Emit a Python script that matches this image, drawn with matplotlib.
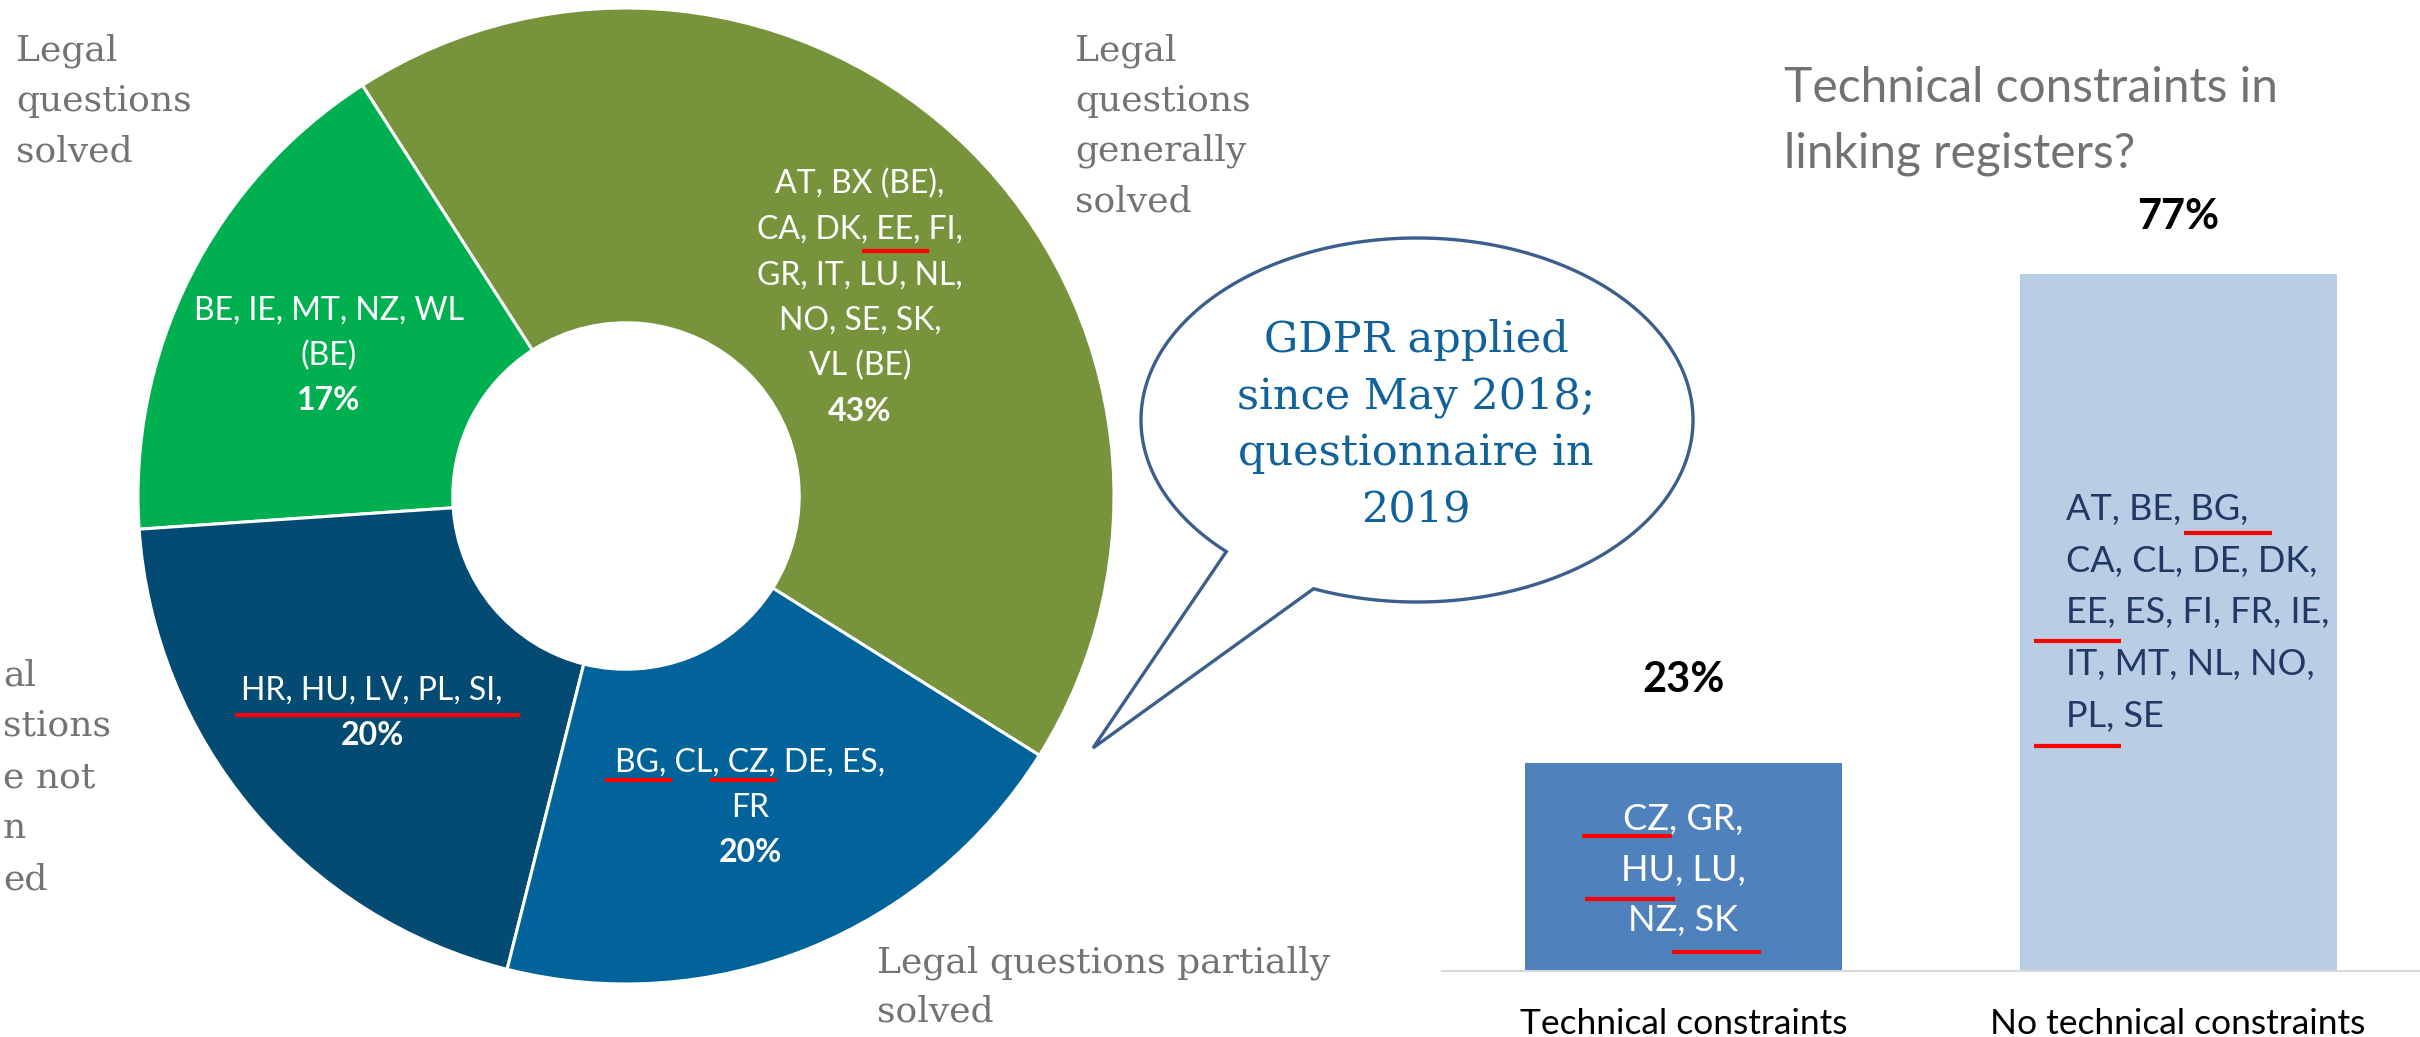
import matplotlib
matplotlib.use("Agg")
import matplotlib.pyplot as plt
import numpy as np
from matplotlib.lines import Line2D
from matplotlib.patches import Polygon

W, H, DPI = 2420, 1037, 100

# ---------------- data ----------------
pie_categories = ["Legal questions generally solved", "Legal questions solved",
                  "Legal questions have not been solved", "Legal questions partially solved"]
pie_values = [43, 17, 20, 20]
pie_countries = [
    ["AT, BX (BE),", "CA, DK, EE, FI,", "GR, IT, LU, NL,", "NO, SE, SK,", "VL (BE)"],
    ["BE, IE, MT, NZ, WL", "(BE)"],
    ["HR, HU, LV, PL, SI,"],
    ["BG, CL, CZ, DE, ES,", "FR"],
]
pie_colors = ["#77933C", "#00B050", "#034B73", "#02629A"]

# visible (left-cropped) part of the "have not been solved" label
cropped_label = ["al", "stions", "e not", "n", "ed"]

bar_title = "Technical constraints in\nlinking registers?"
bar_categories = ["Technical constraints", "No technical constraints"]
bar_values = [23, 77]
bar_countries = [
    ["CZ, GR,", "HU, LU,", "NZ, SK"],
    ["AT, BE, BG,", "CA, CL, DE, DK,", "EE, ES, FI, FR, IE,", "IT, MT, NL, NO,", "PL, SE"],
]
bar_colors = ["#4F81BD", "#B9CDE5"]
bar_text_colors = ["white", "#1F3864"]

callout_lines = ["GDPR applied", "since May 2018;", "questionnaire in", "2019"]

# ---------------- helpers ----------------
fig = plt.figure(figsize=(W / DPI, H / DPI), dpi=DPI)
fig.patch.set_facecolor("white")


def fx(x):
    return x / W


def fy(y):
    return 1 - y / H


def ptext(x, y, s, **kw):
    return fig.text(fx(x), fy(y), s, **kw)


def underline(x0, x1, y, color="#FF0000", lw=3.0):
    fig.add_artist(Line2D([fx(x0), fx(x1)], [fy(y), fy(y)], transform=fig.transFigure,
                          color=color, lw=lw, solid_capstyle="butt", zorder=10))


SANS = ["Lato", "DejaVu Sans"]
SERIF = ["DejaVu Serif"]
GRAY = "#737373"

# ---------------- donut ----------------
cx, cy, R = 626, 496, 488
ax_pie = fig.add_axes([fx(cx - R), (H - cy - R) / H, 2 * R / W, 2 * R / H])
ax_pie.pie(pie_values, colors=pie_colors, startangle=-32.1, counterclock=True, radius=1,
           wedgeprops=dict(width=0.645, edgecolor="white", linewidth=2.2))
ax_pie.set_xlim(-1, 1)
ax_pie.set_ylim(-1, 1)
ax_pie.set_aspect("equal")
ax_pie.axis("off")

# labels inside wedges: (centre x, first cap-centre y)
label_anchor = [(860, 182), (329, 308), (372, 688), (750, 760)]
LS = 45.5
for lines, val, (lx, ly) in zip(pie_countries, pie_values, label_anchor):
    for i, s in enumerate(lines):
        ptext(lx, ly + i * LS + 11.5, s, ha="center", va="baseline", color="white",
              fontsize=23, family=SANS)
    ptext(lx, ly + len(lines) * LS + 11.5, f"{val}%", ha="center", va="baseline",
          color="white", fontsize=23, fontweight="bold", family=SANS)

# red underlines on the donut
underline(862, 929, 251)
underline(235, 520, 715)
underline(605, 672, 780)
underline(710, 777, 780)

# grey category labels (serif)
def gray_block(x, baselines, lines, ha="left"):
    out = []
    for b, s in zip(baselines, lines):
        out.append(ptext(x if np.isscalar(x) else x[len(out)], b, s, ha=ha, va="baseline",
                         color=GRAY, fontsize=26, family=SERIF))
    return out

gray_block(16, [60, 111, 162], ["Legal", "questions", "solved"])
gray_block(1075, [60, 111, 161, 212], ["Legal", "questions", "generally", "solved"])
gray_block(877, [972, 1022], ["Legal questions partially", "solved"])

# left-cropped label: right-aligned fragments, nudged so nothing is cut
frag = gray_block([17, 98, 78, 6, 36], [685, 736, 788, 838, 890], cropped_label, ha="right")
renderer = fig.canvas.get_renderer()
for t in frag:
    bb = t.get_window_extent(renderer)
    if bb.x0 < 3:
        xx, yy = t.get_position()
        t.set_position((xx + (3 - bb.x0) / W, yy))

# ---------------- callout bubble ----------------
ecx, ecy, ea, eb = 1417, 420, 276, 182
t1, t2 = np.deg2rad(248.0), np.deg2rad(226.3 + 360)
tt = np.linspace(t1, t2, 400)
px = ecx + ea * np.cos(tt)
py = (H - ecy) + eb * np.sin(tt)
pts = np.column_stack([px, py]).tolist()
pts.append([1093, H - 748])
pts = np.array(pts)
pts[:, 0] /= W
pts[:, 1] /= H
bubble = Polygon(pts, closed=True, facecolor="white", edgecolor="#3B5E8C", lw=2.4,
                 transform=fig.transFigure, zorder=5)
fig.add_artist(bubble)
for b, s in zip([352, 408, 465, 522], callout_lines):
    t = ptext(1416, b, s, ha="center", va="baseline", color="#11619B", fontsize=31,
              family=SERIF)
    t.set_zorder(6)

# ---------------- bar chart ----------------
ax_b = fig.add_axes([fx(1442), (H - 971) / H, (W - 1442) / W, 971 / H])
x = np.arange(len(bar_values))
ax_b.bar(x, bar_values, width=0.641, color=bar_colors)
ax_b.set_xlim(-0.488, 1.489)
ax_b.set_ylim(0, 107.3)
for s in ["top", "right", "left"]:
    ax_b.spines[s].set_visible(False)
ax_b.spines["bottom"].set_color("#D9D9D9")
ax_b.spines["bottom"].set_linewidth(1.5)
ax_b.set_yticks([])
ax_b.set_xticks(x)
ax_b.set_xticklabels(bar_categories, fontsize=25.5, family=SANS, color="black")
ax_b.tick_params(axis="x", length=0, pad=27)
ax_b.set_facecolor("none")

# value labels above bars
value_pad = [9.2, 6.3]
for xi, v, p in zip(x, bar_values, value_pad):
    ax_b.text(xi, v + p, f"{v}%", ha="center", va="center", fontsize=30,
              fontweight="bold", family=SANS, color="black")

# country lists inside bars
for i, s in enumerate(bar_countries[0]):
    ptext(1683, 817 + i * 50.5 + 13, s, ha="center", va="baseline",
          color=bar_text_colors[0], fontsize=26, family=SANS)
for i, s in enumerate(bar_countries[1]):
    ptext(2066, 507 + i * 51.7 + 13, s, ha="left", va="baseline",
          color=bar_text_colors[1], fontsize=26, family=SANS)

underline(1582, 1672, 836)
underline(1585, 1675, 899)
underline(1672, 1761, 952)
underline(2184, 2272, 533)
underline(2034, 2121, 641)
underline(2034, 2121, 746)

# title
for b, s in zip([102, 167], bar_title.split("\n")):
    ptext(1784, b, s, ha="left", va="baseline", color="#727272", fontsize=34.5,
          family=SANS, fontweight="normal")

fig.savefig("out.png", dpi=DPI, facecolor="white")
